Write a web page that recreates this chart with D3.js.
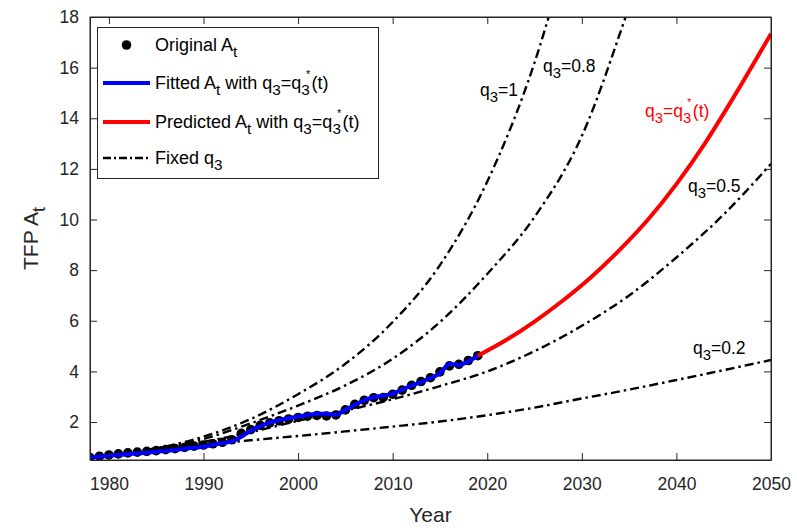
<!DOCTYPE html>
<html>
<head>
<meta charset="utf-8">
<script src="https://cdn.jsdelivr.net/npm/d3@7"></script>
<style>
  body { margin: 0; background: #fff; }
  svg { font-family: "Liberation Sans", Arial, Helvetica, sans-serif; }
</style>
</head>
<body>
<svg id="chart" width="797" height="528"></svg>
<script>
// ---------- data ----------
const years = d3.range(1978, 2020);
const originalA = [0.60,0.65,0.70,0.74,0.78,0.81,0.84,0.87,0.91,0.95,1.00,1.05,1.09,1.14,1.20,1.30,1.55,1.70,1.87,1.97,2.05,2.12,2.18,2.23,2.26,2.24,2.28,2.48,2.70,2.86,2.96,2.97,3.10,3.26,3.45,3.60,3.75,3.98,4.22,4.28,4.43,4.62];
const fittedA = [0.60,0.63,0.67,0.70,0.73,0.76,0.79,0.83,0.86,0.90,0.94,0.98,1.02,1.10,1.16,1.24,1.42,1.66,1.84,1.98,2.08,2.15,2.22,2.28,2.33,2.33,2.29,2.48,2.68,2.86,2.98,3.04,3.12,3.28,3.44,3.58,3.74,3.92,4.30,4.25,4.40,4.62];

const predYears = [2019,2022,2025,2028,2031,2034,2037,2040,2043,2046,2050];
const predictedA = [4.62,5.24,5.97,6.80,7.73,8.80,10.0,11.4,13.0,14.8,17.34];

const fixedYears = [1984,1987,1990,1995,2000,2005,2010,2015,2020,2025,2030,2035,2040,2045,2050];
const fixedQ1   = [0.90,1.12,1.42,2.12,3.10,4.30,5.95,8.20,11.5,16.2,22.8,null,null,null,null];
const fixedQ08  = [0.90,1.08,1.33,1.95,2.65,3.45,4.50,5.95,7.85,10.1,13.3,18.4,24.0,null,null];
const fixedQ05  = [0.90,1.05,1.22,1.60,2.05,2.45,2.90,3.42,4.00,4.80,5.80,7.00,8.50,10.2,12.2];
const fixedQ02  = [0.90,1.00,1.10,1.28,1.45,1.63,1.82,2.02,2.27,2.57,2.93,3.28,3.66,4.05,4.45];

const xTicks = [1980,1990,2000,2010,2020,2030,2040,2050];
const yTicks = [2,4,6,8,10,12,14,16,18];

// ---------- layout ----------
const svg = d3.select("#chart");
const L = 90, R = 771, T = 17, B = 460;
const x = d3.scaleLinear().domain([1978, 2050]).range([L, R]);
const y = d3.scaleLinear().domain([0.5, 18]).range([B, T]);
const axisColor = "#262626";

svg.append("defs").append("clipPath").attr("id", "clip")
  .append("rect").attr("x", L).attr("y", T).attr("width", R - L).attr("height", B - T);

const plot = svg.append("g").attr("clip-path", "url(#clip)");

const line = d3.line()
  .defined(d => d[1] != null)
  .x(d => x(d[0])).y(d => y(d[1]))
  .curve(d3.curveMonotoneX);

[fixedQ1, fixedQ08, fixedQ05, fixedQ02].forEach(arr => {
  plot.append("path")
    .datum(fixedYears.map((yr, i) => [yr, arr[i]]))
    .attr("d", line)
    .attr("fill", "none")
    .attr("stroke", "#000")
    .attr("stroke-width", 2.4)
    .attr("stroke-dasharray", "9,4,2.5,4");
});

plot.selectAll("circle.orig")
  .data(years.map((yr, i) => [yr, originalA[i]]))
  .join("circle")
  .attr("class", "orig")
  .attr("cx", d => x(d[0])).attr("cy", d => y(d[1]))
  .attr("r", 4.8).attr("fill", "#000");

plot.append("path")
  .datum(years.map((yr, i) => [yr, fittedA[i]]))
  .attr("d", line)
  .attr("fill", "none").attr("stroke", "#0000ff").attr("stroke-width", 4);

plot.append("path")
  .datum(predYears.map((yr, i) => [yr, predictedA[i]]))
  .attr("d", line)
  .attr("fill", "none").attr("stroke", "#ff0000").attr("stroke-width", 4);

// ---------- axes ----------
const tickLen = 7;
const gx = svg.append("g").attr("transform", `translate(0,${B})`)
  .call(d3.axisBottom(x).tickValues(xTicks).tickFormat(d3.format("d")).tickSizeInner(-tickLen).tickSizeOuter(0).tickPadding(18));
const gxTop = svg.append("g").attr("transform", `translate(0,${T})`)
  .call(d3.axisTop(x).tickValues(xTicks).tickFormat("").tickSizeInner(-tickLen).tickSizeOuter(0));
const gy = svg.append("g").attr("transform", `translate(${L},0)`)
  .call(d3.axisLeft(y).tickValues(yTicks).tickSizeInner(-tickLen).tickSizeOuter(0).tickPadding(11));
const gyR = svg.append("g").attr("transform", `translate(${R},0)`)
  .call(d3.axisRight(y).tickValues(yTicks).tickFormat("").tickSizeInner(-tickLen).tickSizeOuter(0));

[gx, gxTop, gy, gyR].forEach(g => {
  g.select(".domain").attr("stroke", axisColor).attr("stroke-width", 1);
  g.selectAll(".tick line").attr("stroke", axisColor).attr("stroke-width", 1);
  g.selectAll(".tick text").attr("fill", axisColor).attr("font-size", 17.5)
    .attr("font-family", "Liberation Sans, Arial, sans-serif");
});
svg.append("rect").attr("x", L).attr("y", T).attr("width", R - L).attr("height", B - T)
  .attr("fill", "none").attr("stroke", axisColor).attr("stroke-width", 1);

// ---------- rich text builder ----------
function rich(t, fs, segs) {
  let cur = 0;
  segs.forEach(([s, k]) => {
    let target = 0, size = fs, dx = 0;
    if (k === "b") { target = fs * 0.32; size = fs * 0.85; }
    if (k === "p") { target = -fs * 0.62; size = fs * 0.6; dx = -fs * 0.22; }
    if (k === "n2") { dx = fs * 0.08; }
    const ts = t.append("tspan").attr("font-size", size).text(s);
    if (target - cur !== 0) ts.attr("dy", target - cur);
    if (dx !== 0) ts.attr("dx", dx);
    cur = target;
  });
}

// ---------- axis titles ----------
svg.append("text").attr("x", (L + R) / 2).attr("y", 522)
  .attr("text-anchor", "middle").attr("font-size", 21).attr("fill", axisColor).text("Year");

const yt = svg.append("text")
  .attr("transform", `translate(38,${(T + B) / 2}) rotate(-90)`)
  .attr("text-anchor", "middle").attr("fill", axisColor);
rich(yt, 21, [["TFP A", "n"], ["t", "b"]]);

// ---------- curve labels ----------
const cfs = 17.5;
function fixedLabel(xp, yp, val) {
  const t = svg.append("text").attr("x", xp).attr("y", yp).attr("fill", "#000");
  rich(t, cfs, [["q", "n"], ["3", "b"], ["=" + val, "n"]]);
}
fixedLabel(480, 96, "1");
fixedLabel(543, 72, "0.8");
fixedLabel(688, 192, "0.5");
fixedLabel(693, 354, "0.2");
{
  const t = svg.append("text").attr("x", 645).attr("y", 117).attr("fill", "#ff0000");
  rich(t, cfs, [["q", "n"], ["3", "b"], ["=q", "n"], ["3", "b"], ["*", "p"], ["(t)", "n2"]]);
}

// ---------- legend ----------
const lg = svg.append("g");
lg.append("rect").attr("x", 97.5).attr("y", 27.5).attr("width", 281).attr("height", 151)
  .attr("fill", "#fff").attr("stroke", axisColor).attr("stroke-width", 1);
const rows = [45, 83, 122, 158];
const lfs = 18;
const tx = 155;
lg.append("circle").attr("cx", 126.5).attr("cy", rows[0]).attr("r", 4.8).attr("fill", "#000");
rich(lg.append("text").attr("x", tx).attr("y", rows[0] + 6).attr("fill", "#000"), lfs,
  [["Original A", "n"], ["t", "b"]]);
[["Fitted", "#0000ff", rows[1]], ["Predicted", "#ff0000", rows[2]]].forEach(([w, c, ry]) => {
  lg.append("line").attr("x1", 103).attr("x2", 150).attr("y1", ry).attr("y2", ry)
    .attr("stroke", c).attr("stroke-width", 4);
  rich(lg.append("text").attr("x", tx).attr("y", ry + 6).attr("fill", "#000"), lfs,
    [[w + " A", "n"], ["t", "b"], [" with q", "n"], ["3", "b"], ["=q", "n"], ["3", "b"], ["*", "p"], ["(t)", "n2"]]);
});
lg.append("line").attr("x1", 103).attr("x2", 150).attr("y1", rows[3]).attr("y2", rows[3])
  .attr("stroke", "#000").attr("stroke-width", 2.4).attr("stroke-dasharray", "8,3,2,3");
rich(lg.append("text").attr("x", tx).attr("y", rows[3] + 6).attr("fill", "#000"), lfs,
  [["Fixed q", "n"], ["3", "b"]]);
</script>
</body>
</html>
